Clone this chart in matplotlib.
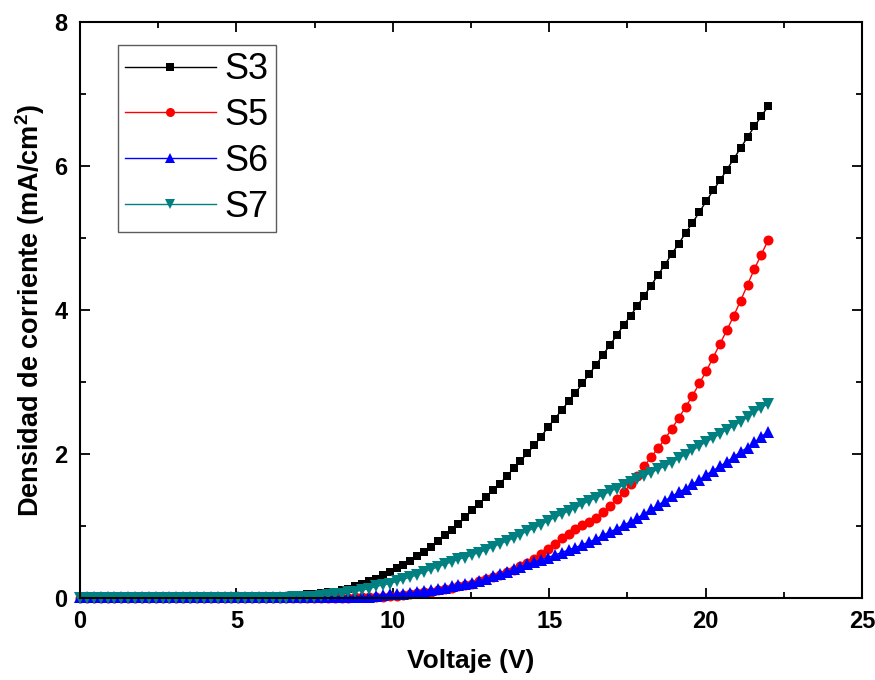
import numpy as np
import matplotlib
matplotlib.use('Agg')
import matplotlib.pyplot as plt
from matplotlib.ticker import MultipleLocator

plt.rcParams['font.family'] = ['Liberation Sans', 'DejaVu Sans']
plt.rcParams['mathtext.fontset'] = 'custom'
plt.rcParams['mathtext.rm'] = 'Liberation Sans'
plt.rcParams['mathtext.bf'] = 'Liberation Sans:bold'

# voltage sweep, 0 to 22 V in 0.22 V steps
voltaje = np.round(np.linspace(0, 22, 101), 2)

s3 = [0.0] * 23 + [
    0.0, 0.0, 0.01, 0.01, 0.01, 0.01, 0.02, 0.02, 0.03, 0.04,
    0.05, 0.06, 0.07, 0.08, 0.09, 0.11, 0.13, 0.16, 0.19, 0.23,
    0.27, 0.32, 0.36, 0.41, 0.46, 0.52, 0.58, 0.64, 0.71, 0.79,
    0.87, 0.95, 1.03, 1.12, 1.22, 1.31, 1.40, 1.50, 1.59, 1.69,
    1.80, 1.90, 2.01, 2.12, 2.24, 2.37, 2.49, 2.61, 2.73, 2.85,
    2.98, 3.11, 3.24, 3.38, 3.51, 3.65, 3.79, 3.92, 4.06, 4.20,
    4.34, 4.49, 4.63, 4.78, 4.92, 5.07, 5.21, 5.36, 5.51, 5.66,
    5.80, 5.95, 6.10, 6.25, 6.40, 6.55, 6.69, 6.83]

s5 = [0.0] * 40 + [
    0.01, 0.01, 0.01, 0.02, 0.02, 0.03, 0.03, 0.04, 0.05, 0.07,
    0.08, 0.09, 0.11, 0.12, 0.14, 0.16, 0.18, 0.20, 0.23, 0.26,
    0.29, 0.32, 0.36, 0.39, 0.44, 0.49, 0.54, 0.61, 0.68, 0.75,
    0.83, 0.89, 0.96, 1.01, 1.06, 1.11, 1.19, 1.28, 1.37, 1.47,
    1.58, 1.70, 1.83, 1.96, 2.08, 2.21, 2.35, 2.50, 2.65, 2.81,
    2.98, 3.15, 3.34, 3.53, 3.72, 3.92, 4.13, 4.35, 4.57, 4.77,
    4.97]

s6 = [0.02] * 41 + [
    0.02, 0.02, 0.03, 0.04, 0.05, 0.05, 0.06, 0.07, 0.09,
    0.10, 0.11, 0.13, 0.14, 0.16, 0.18, 0.20, 0.21, 0.24, 0.27,
    0.30, 0.33, 0.36, 0.40, 0.43, 0.47, 0.50, 0.53, 0.56, 0.60,
    0.63, 0.67, 0.70, 0.74, 0.78, 0.82, 0.87, 0.92, 0.96, 1.01,
    1.06, 1.11, 1.17, 1.23, 1.29, 1.35, 1.41, 1.47, 1.52, 1.58,
    1.64, 1.71, 1.77, 1.83, 1.89, 1.96, 2.03, 2.09, 2.16, 2.24,
    2.31]

s7 = [0.0] * 31 + [
    0.01, 0.01, 0.01, 0.02, 0.03, 0.04, 0.05, 0.06, 0.08,
    0.09, 0.11, 0.13, 0.16, 0.18, 0.20, 0.23, 0.26, 0.29, 0.32,
    0.36, 0.40, 0.43, 0.47, 0.50, 0.54, 0.56, 0.60, 0.63, 0.67,
    0.71, 0.75, 0.79, 0.83, 0.88, 0.93, 0.97, 1.02, 1.07, 1.12,
    1.16, 1.21, 1.25, 1.30, 1.35, 1.39, 1.43, 1.48, 1.52, 1.57,
    1.61, 1.65, 1.70, 1.74, 1.79, 1.83, 1.88, 1.94, 1.99, 2.05,
    2.11, 2.17, 2.22, 2.28, 2.34, 2.39, 2.45, 2.51, 2.58, 2.64,
    2.70]

series = [
    ('S3', s3, '#000000', 's', 6.2),
    ('S5', s5, '#ff0000', 'o', 7.2),
    ('S6', s6, '#0000ff', '^', 8.0),
    ('S7', s7, '#008080', 'v', 8.0),
]

fig = plt.figure(figsize=(8.75, 6.8), dpi=100)
ax = fig.add_axes([80/875, 82/680, 782/875, 576/680])

for name, vals, col, mk, ms in series:
    ax.plot(voltaje, vals, color=col, marker=mk, markersize=ms, lw=1.0,
            markeredgewidth=0, label=name, clip_on=False)

ax.set_xlim(0, 25)
ax.set_ylim(0, 8)
ax.xaxis.set_major_locator(MultipleLocator(5))
ax.xaxis.set_minor_locator(MultipleLocator(2.5))
ax.yaxis.set_major_locator(MultipleLocator(2))
ax.yaxis.set_minor_locator(MultipleLocator(1))
ax.tick_params(which='both', direction='in', top=True, right=True, width=1.3)
ax.tick_params(which='major', length=7, labelsize=17, pad=9)
ax.tick_params(which='minor', length=4)
for lab in ax.get_xticklabels() + ax.get_yticklabels():
    lab.set_fontweight('bold')
for sp in ax.spines.values():
    sp.set_linewidth(1.5)

ax.set_xlabel('Voltaje (V)', fontsize=19, fontweight='bold', labelpad=11)
ax.set_ylabel(r'Densidad de corriente (mA/cm$^{\mathbf{2}}$)', fontsize=19.5,
              fontweight='bold', labelpad=5)

leg = ax.legend(loc='upper left', bbox_to_anchor=(0.0486, 0.96), borderaxespad=0,
                fontsize=26, handlelength=2.5, handletextpad=0.25, labelspacing=0.3,
                fancybox=False, borderpad=0.2, markerscale=0.9)
leg.get_frame().set_edgecolor('#333333')
leg.get_frame().set_linewidth(1.0)

fig.savefig('out.png', dpi=100)
